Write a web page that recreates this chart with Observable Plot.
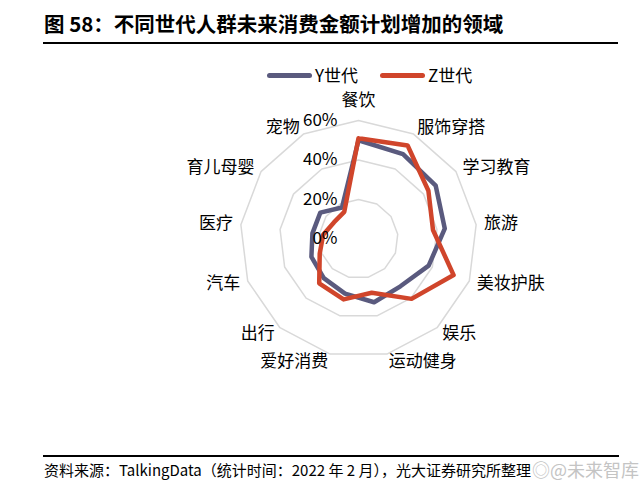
<!DOCTYPE html>
<html>
<head>
<meta charset="utf-8">
<script src="https://cdn.jsdelivr.net/npm/d3@7"></script>
<script src="https://cdn.jsdelivr.net/npm/@observablehq/plot@0.6"></script>
<style>
  html, body { margin: 0; padding: 0; background: #fff; }
  #wrap { position: relative; width: 640px; height: 488px; overflow: hidden; font-family: "Noto Sans CJK SC", sans-serif; color: #000; }
  .abs { position: absolute; white-space: nowrap; }
</style>
</head>
<body>
<div id="wrap">
  <div class="abs" id="title" style="left:44px;top:9px;font-size:20.5px;font-weight:bold;line-height:28px;"></div>
  <div class="abs" style="left:43px;top:42px;width:575px;height:2px;background:#000;"></div>
  <div class="abs" id="chart" style="left:0;top:50px;"></div>
  <div class="abs" id="legend" style="left:0;top:65px;height:20px;"></div>
  <div class="abs" style="left:43px;top:455px;width:576px;height:1.5px;background:#000;"></div>
  <div class="abs" id="caption" style="left:44px;top:459px;font-size:15px;line-height:21px;"></div>
  <div class="abs" id="watermark" style="left:532px;top:457px;font-size:18px;line-height:24px;color:#c4c4c4;text-shadow:0 0 2px #fff, 0 0 2px #fff;"></div>
</div>
<script>
// ---- data ----
const categories = ["餐饮", "服饰穿搭", "学习教育", "旅游", "美妆护肤", "娱乐", "运动健身", "爱好消费", "出行", "汽车", "医疗", "育儿母婴", "宠物"];
const seriesNames = ["Y世代", "Z世代"];
const yGen = [50, 48.5, 47.5, 44, 38, 32, 33, 28.5, 26.5, 25.5, 23.5, 23.5, 18];
const zGen = [51, 53.5, 43, 38, 51.5, 40.5, 28, 31.5, 30, 21, 18, 15, 15.5];
const tickValues = [0, 20, 40, 60];
const tickLabels = ["0%", "20%", "40%", "60%"];
const colors = ["#5A5A7E", "#D0452B"];
const titleText = "图 58：不同世代人群未来消费金额计划增加的领域";
const captionText = "资料来源：TalkingData（统计时间：2022 年 2 月），光大证券研究所整理";
const watermarkText = "◎@未来智库";

document.getElementById("title").textContent = titleText;
document.getElementById("caption").textContent = captionText;
document.getElementById("watermark").textContent = watermarkText;

// ---- geometry helpers ----
const n = categories.length;
const step = 2 * Math.PI / n;
const px = (v, i) => v * Math.sin(i * step);
const py = (v, i) => v * Math.cos(i * step);

// grid rings
const rings = [];
tickValues.filter(t => t > 0).forEach(t => {
  for (let i = 0; i <= n; i++) rings.push({ring: t, x: px(t, i % n), y: py(t, i % n)});
});

// series polygons (closed)
const seriesData = [];
[yGen, zGen].forEach((vals, s) => {
  for (let i = 0; i <= n; i++) {
    const k = i % n;
    seriesData.push({series: seriesNames[s], cat: categories[k], value: vals[k], x: px(vals[k], k), y: py(vals[k], k)});
  }
});

// category labels
const labelR = 64;
const labels = categories.map((c, i) => ({name: c, x: px(labelR, i), y: py(labelR, i), s: Math.sin(i * step)}));

const ticks = tickValues.map((t, i) => ({x: 0, y: t, label: tickLabels[i]}));

const chart = Plot.plot({
  width: 640,
  height: 400,
  margin: 0,
  x: {domain: [-60, 60], range: [358 - 118.5, 358 + 118.5], axis: null},
  y: {domain: [-60, 60], range: [188.5 + 118.5, 188.5 - 118.5], axis: null},
  color: {domain: seriesNames, range: colors},
  style: {fontFamily: "'Noto Sans CJK SC', sans-serif", fontSize: "17px", color: "#000", background: "transparent"},
  marks: [
    Plot.line(rings, {x: "x", y: "y", z: "ring", stroke: "#d9d9d9", strokeWidth: 1.5, curve: "linear-closed"}),
    Plot.line(seriesData, {x: "x", y: "y", z: "series", stroke: "series", strokeWidth: 4.5, strokeLinejoin: "round", strokeLinecap: "round"}),
    Plot.text(ticks, {x: "x", y: "y", text: "label", dx: -21, textAnchor: "end", fill: "#000", fontSize: 17}),
    Plot.text(labels.filter(d => d.s > 0.1), {x: "x", y: "y", text: "name", textAnchor: "start", fill: "#000", fontSize: 17}),
    Plot.text(labels.filter(d => d.s < -0.1), {x: "x", y: "y", text: "name", textAnchor: "end", fill: "#000", fontSize: 17}),
    Plot.text(labels.filter(d => Math.abs(d.s) <= 0.1), {x: "x", y: "y", text: "name", dy: -12, textAnchor: "middle", fill: "#000", fontSize: 17})
  ]
});
document.getElementById("chart").appendChild(chart);

// legend (HTML)
const legend = document.getElementById("legend");
const legendPos = [{line: 267, text: 315}, {line: 380, text: 428}];
seriesNames.forEach((name, i) => {
  const bar = document.createElement("div");
  bar.className = "abs";
  bar.style.cssText = `left:${legendPos[i].line}px;top:8px;width:45px;height:4.5px;border-radius:3px;background:${colors[i]};`;
  legend.appendChild(bar);
  const t = document.createElement("div");
  t.className = "abs";
  t.style.cssText = `left:${legendPos[i].text}px;top:0;font-size:17px;line-height:20px;`;
  t.textContent = name;
  legend.appendChild(t);
});
</script>
</body>
</html>
